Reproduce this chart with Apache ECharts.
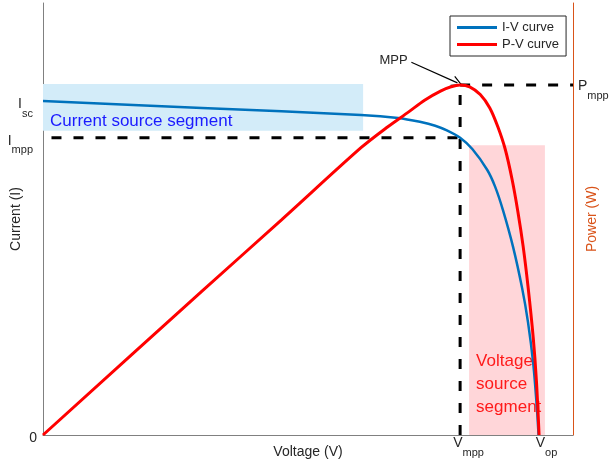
<!DOCTYPE html>
<html><head><meta charset="utf-8">
<script src="https://cdn.jsdelivr.net/npm/echarts@6/dist/echarts.min.js"></script>
<style>html,body{margin:0;padding:0;background:#fff}#c{width:609px;height:466px}</style>
</head><body><div id="c"></div>
<script>
// ---- data (normalised units) ----
const ivVoltage = [0, 0.3, 0.6, 0.67, 0.711, 0.74, 0.762, 0.787, 0.81, 0.838, 0.853, 0.868, 0.887, 0.904, 0.915, 0.925, 0.932, 0.935];
const ivCurrent = [0.773, 0.757, 0.741, 0.734, 0.725, 0.716, 0.705, 0.688, 0.662, 0.614, 0.575, 0.520, 0.435, 0.340, 0.262, 0.165, 0.060, 0];
const pvVoltage = [0, 0.3, 0.45, 0.6, 0.65, 0.69, 0.72, 0.75, 0.77, 0.787, 0.805, 0.825, 0.843, 0.858, 0.872, 0.885, 0.896, 0.906, 0.915, 0.925, 0.931, 0.936];
const pvPower   = [0, 0.333, 0.498, 0.665, 0.713, 0.748, 0.775, 0.796, 0.806, 0.810, 0.806, 0.788, 0.757, 0.714, 0.662, 0.592, 0.517, 0.436, 0.345, 0.225, 0.125, 0];
const xTickValues = [0.787, 0.934];
const xTickLabels = ['V_mpp', 'V_op'];
const yTickValues = [0, 0.688, 0.773];
const yTickLabels = ['0', 'I_mpp', 'I_sc'];
const pTickValues = [0.810];
const pTickLabels = ['P_mpp'];
const mppVoltage = 0.787, mppCurrent = 0.688, mppPower = 0.810;
const currentSegment = [[0, 0.704], [0.604, 0.8125]];
const voltageSegment = [[0.804, 0], [0.947, 0.671]];
const arrowFrom = [0.695, 0.863], arrowTo = [0.782, 0.815];
const seriesNames = ['I-V curve', 'P-V curve'];

// ---- helpers ----
function pair(xs, ys) { return xs.map((x, k) => [x, ys[k]]); }
function subLabel(vals, labels) {
  return function (v) {
    let k = vals.findIndex(t => Math.abs(t - v) < 1e-6);
    if (k < 0) return '';
    const parts = labels[k].split('_');
    return parts.length > 1 ? '{b|' + parts[0] + '}{s|' + parts[1] + '}' : '{b|' + parts[0] + '}';
  };
}
const FONT = 'Liberation Sans, Arial, sans-serif';
const TXT = '#262626';
function makeRich(subPad) {
  return {
    b: { fontSize: 14, lineHeight: 30, color: TXT, fontFamily: FONT },
    s: { fontSize: 11, verticalAlign: 'bottom', color: TXT, fontFamily: FONT, padding: subPad }
  };
}
const dash = { color: '#000', width: 3, type: [10, 12] };

const chart = echarts.init(document.getElementById('c'), null, { renderer: 'canvas' });
chart.setOption({
  animation: false,
  backgroundColor: '#fff',
  textStyle: { fontFamily: FONT },
  grid: { left: 43, right: 36, top: 3, bottom: 31, containLabel: false, outerBoundsMode: 'none' },
  legend: {
    data: [{ name: seriesNames[0], icon: 'rect' }, { name: seriesNames[1], icon: 'rect' }],
    orient: 'vertical', left: 450, top: 16,
    backgroundColor: '#fff', borderColor: '#262626', borderWidth: 1, borderRadius: 0,
    padding: [4, 7, 4, 7], itemWidth: 40, itemHeight: 3, itemGap: 2,
    textStyle: { fontSize: 13, color: TXT, fontFamily: FONT, lineHeight: 15 }
  },
  xAxis: {
    type: 'value', min: 0, max: 1,
    name: 'Voltage (V)', nameLocation: 'middle', nameGap: 10, nameMoveOverlap: false,
    nameTextStyle: { fontSize: 14, color: TXT, verticalAlign: 'top' },
    axisLine: { show: true, onZero: false, lineStyle: { color: '#808080', width: 1 } },
    axisTick: { show: false },
    splitLine: { show: false },
    axisLabel: { customValues: xTickValues, formatter: subLabel(xTickValues, xTickLabels), rich: makeRich(0), margin: -7, padding: [0, 0, 0, 17] }
  },
  yAxis: [{
    type: 'value', min: 0, max: 1, position: 'left',
    name: 'Current (I)', nameLocation: 'middle', nameGap: 20, nameRotate: 90, nameMoveOverlap: false,
    nameTextStyle: { fontSize: 14, color: TXT },
    axisLine: { show: true, onZero: false, lineStyle: { color: '#808080', width: 1 } },
    axisTick: { show: false }, splitLine: { show: false },
    axisLabel: { customValues: yTickValues, formatter: subLabel(yTickValues, yTickLabels), rich: makeRich([0, 4, 0, 0]), margin: 6, padding: [6, 0, 0, 0] }
  }, {
    type: 'value', min: 0, max: 1, position: 'right',
    name: 'Power (W)', nameLocation: 'middle', nameGap: 12, nameRotate: 90, nameMoveOverlap: false,
    nameTextStyle: { fontSize: 14, color: '#D95319' },
    axisLine: { show: true, onZero: false, lineStyle: { color: '#D95319', width: 1 } },
    axisTick: { show: false }, splitLine: { show: false },
    axisLabel: { customValues: pTickValues, formatter: subLabel(pTickValues, pTickLabels), rich: makeRich(0), margin: 5, padding: [2, 0, 0, 0] }
  }],
  series: [
    {
      name: 'segments', type: 'line', data: [], z: 1, silent: true,
      markArea: {
        silent: true,
        data: [
          [{ coord: currentSegment[0], itemStyle: { color: '#d3ecf9' },
             label: { show: true, position: [7, 29], formatter: 'Current source segment', color: '#1a1aff', fontSize: 17, fontFamily: FONT } },
           { coord: currentSegment[1] }],
          [{ coord: voltageSegment[0], itemStyle: { color: '#ffd6d9' },
             label: { show: true, position: [7, 205], formatter: 'Voltage\nsource\nsegment', color: '#ff1a1a', fontSize: 17, lineHeight: 23, fontFamily: FONT } },
           { coord: voltageSegment[1] }]
        ]
      }
    },
    { name: 'dash1', type: 'line', z: 2, silent: true, symbol: 'none', lineStyle: dash,
      data: [[0.016, mppCurrent], [mppVoltage, mppCurrent]] },
    { name: 'dash2', type: 'line', z: 2, silent: true, symbol: 'none', lineStyle: dash,
      data: [[mppVoltage, 0], [mppVoltage, mppPower]] },
    { name: 'dash3', type: 'line', z: 2, silent: true, symbol: 'none', lineStyle: dash, yAxisIndex: 1,
      data: [[mppVoltage, mppPower], [1, mppPower]] },
    {
      name: seriesNames[0], type: 'line', z: 4, symbol: 'none', smooth: 0.3,
      color: '#0072BD', lineStyle: { color: '#0072BD', width: 2.5 },
      data: pair(ivVoltage, ivCurrent)
    },
    {
      name: seriesNames[1], type: 'line', z: 5, symbol: 'none', smooth: 0.3, yAxisIndex: 1,
      color: '#FF0000', lineStyle: { color: '#FF0000', width: 3 },
      data: pair(pvVoltage, pvPower),
      markLine: {
        silent: true, symbol: ['none', 'path://M0,0 L-6,11 L-4.8,11.6 L0,2.6 L4.8,11.6 L6,11 Z'], symbolSize: [11, 11],
        lineStyle: { color: '#000', width: 1.2, type: 'solid' },
        label: { show: true, position: 'start', formatter: 'MPP', color: TXT, fontSize: 13, fontFamily: FONT, distance: 4, padding: [0, 0, 8, 0] },
        data: [[{ coord: arrowFrom }, { coord: arrowTo }]]
      }
    }
  ]
});
</script></body></html>
